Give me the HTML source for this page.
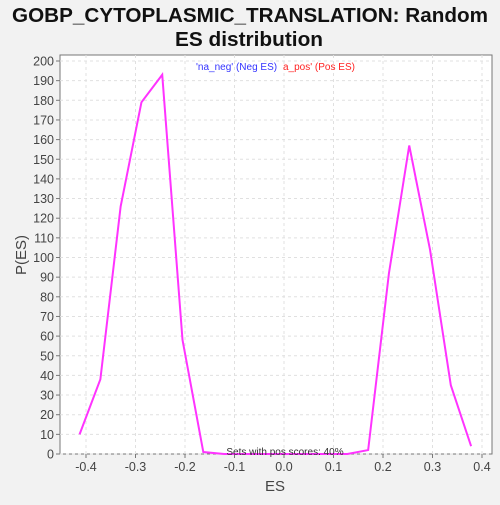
<!DOCTYPE html>
<html><head><meta charset="utf-8"><style>
body{margin:0;background:#f2f2f2;width:500px;height:500px;overflow:hidden;font-family:"Liberation Sans",sans-serif}
</style></head><body>
<svg width="500" height="500">
<text x="250" y="22" text-anchor="middle" font-size="20" font-weight="bold" fill="#111" textLength="476" lengthAdjust="spacingAndGlyphs">GOBP_CYTOPLASMIC_TRANSLATION: Random</text>
<text x="249" y="46" text-anchor="middle" font-size="20" font-weight="bold" fill="#111" textLength="148" lengthAdjust="spacingAndGlyphs">ES distribution</text>
<rect x="60" y="55" width="432" height="399" fill="#fff" stroke="#777"/>
<g id="grid"></g><g id="axes"></g>
<polyline id="line" fill="none" stroke="#ff33ff" stroke-width="2"/>
<text x="196" y="70" font-size="10" fill="#3333ff">'na_neg' (Neg ES)</text>
<text x="283" y="70" font-size="10" fill="#ff2222">a_pos' (Pos ES)</text>
<text x="285" y="455" text-anchor="middle" font-size="10" fill="#333">Sets with pos scores: 40%</text>
<text x="275" y="491" text-anchor="middle" font-size="15" fill="#444">ES</text>
<text x="26" y="255" text-anchor="middle" font-size="15" fill="#444" transform="rotate(-90 26 255)">P(ES)</text>
</svg>
<script>
const esValues=[-0.413,-0.371,-0.330,-0.288,-0.246,-0.205,-0.163,-0.121,-0.080,-0.038,0.003,0.045,0.087,0.128,0.170,0.212,0.253,0.295,0.337,0.378];
const densities=[10,38,126,179,193,58,1,0,0,0,0,0,0,0,2,92,157,104,35,4];
const xTicks=[-0.4,-0.3,-0.2,-0.1,0.0,0.1,0.2,0.3,0.4];
const yTicks=[0,10,20,30,40,50,60,70,80,90,100,110,120,130,140,150,160,170,180,190,200];
const sx=v=>284+v*495, sy=v=>454-v*1.965;
const NS="http://www.w3.org/2000/svg";
const grid=document.getElementById('grid'), axes=document.getElementById('axes');
function mk(tag,attrs,parent){const e=document.createElementNS(NS,tag);for(const k in attrs)e.setAttribute(k,attrs[k]);parent.appendChild(e);return e;}
xTicks.forEach(t=>{
 const g=mk('line',{x1:sx(t),x2:sx(t),y1:55,y2:454,stroke:'#e0e0e0','stroke-dasharray':'3,3'},grid);
 
 
 const tk=mk('line',{x1:sx(t),x2:sx(t),y1:454,y2:458,stroke:'#777'},axes);
 
 
 const l=mk('text',{x:sx(t),y:471,'text-anchor':'middle','font-size':'12.5',fill:'#444'},axes);
 l.textContent=t.toFixed(1);
 
 
});
yTicks.forEach(t=>{
 const g=mk('line',{x1:60,x2:492,y1:sy(t),y2:sy(t),stroke:'#e0e0e0','stroke-dasharray':'3,3'},grid);
 
 
 const tk=mk('line',{x1:56,x2:60,y1:sy(t),y2:sy(t),stroke:'#777'},axes);
 
 
 const l=mk('text',{x:54,y:sy(t)+4.5,'text-anchor':'end','font-size':'12.5',fill:'#444'},axes);
 l.textContent=t;
 
 
});
document.getElementById('line').setAttribute('points',esValues.map((v,i)=>sx(v)+','+sy(densities[i])).join(' '));
</script>
</body></html>
